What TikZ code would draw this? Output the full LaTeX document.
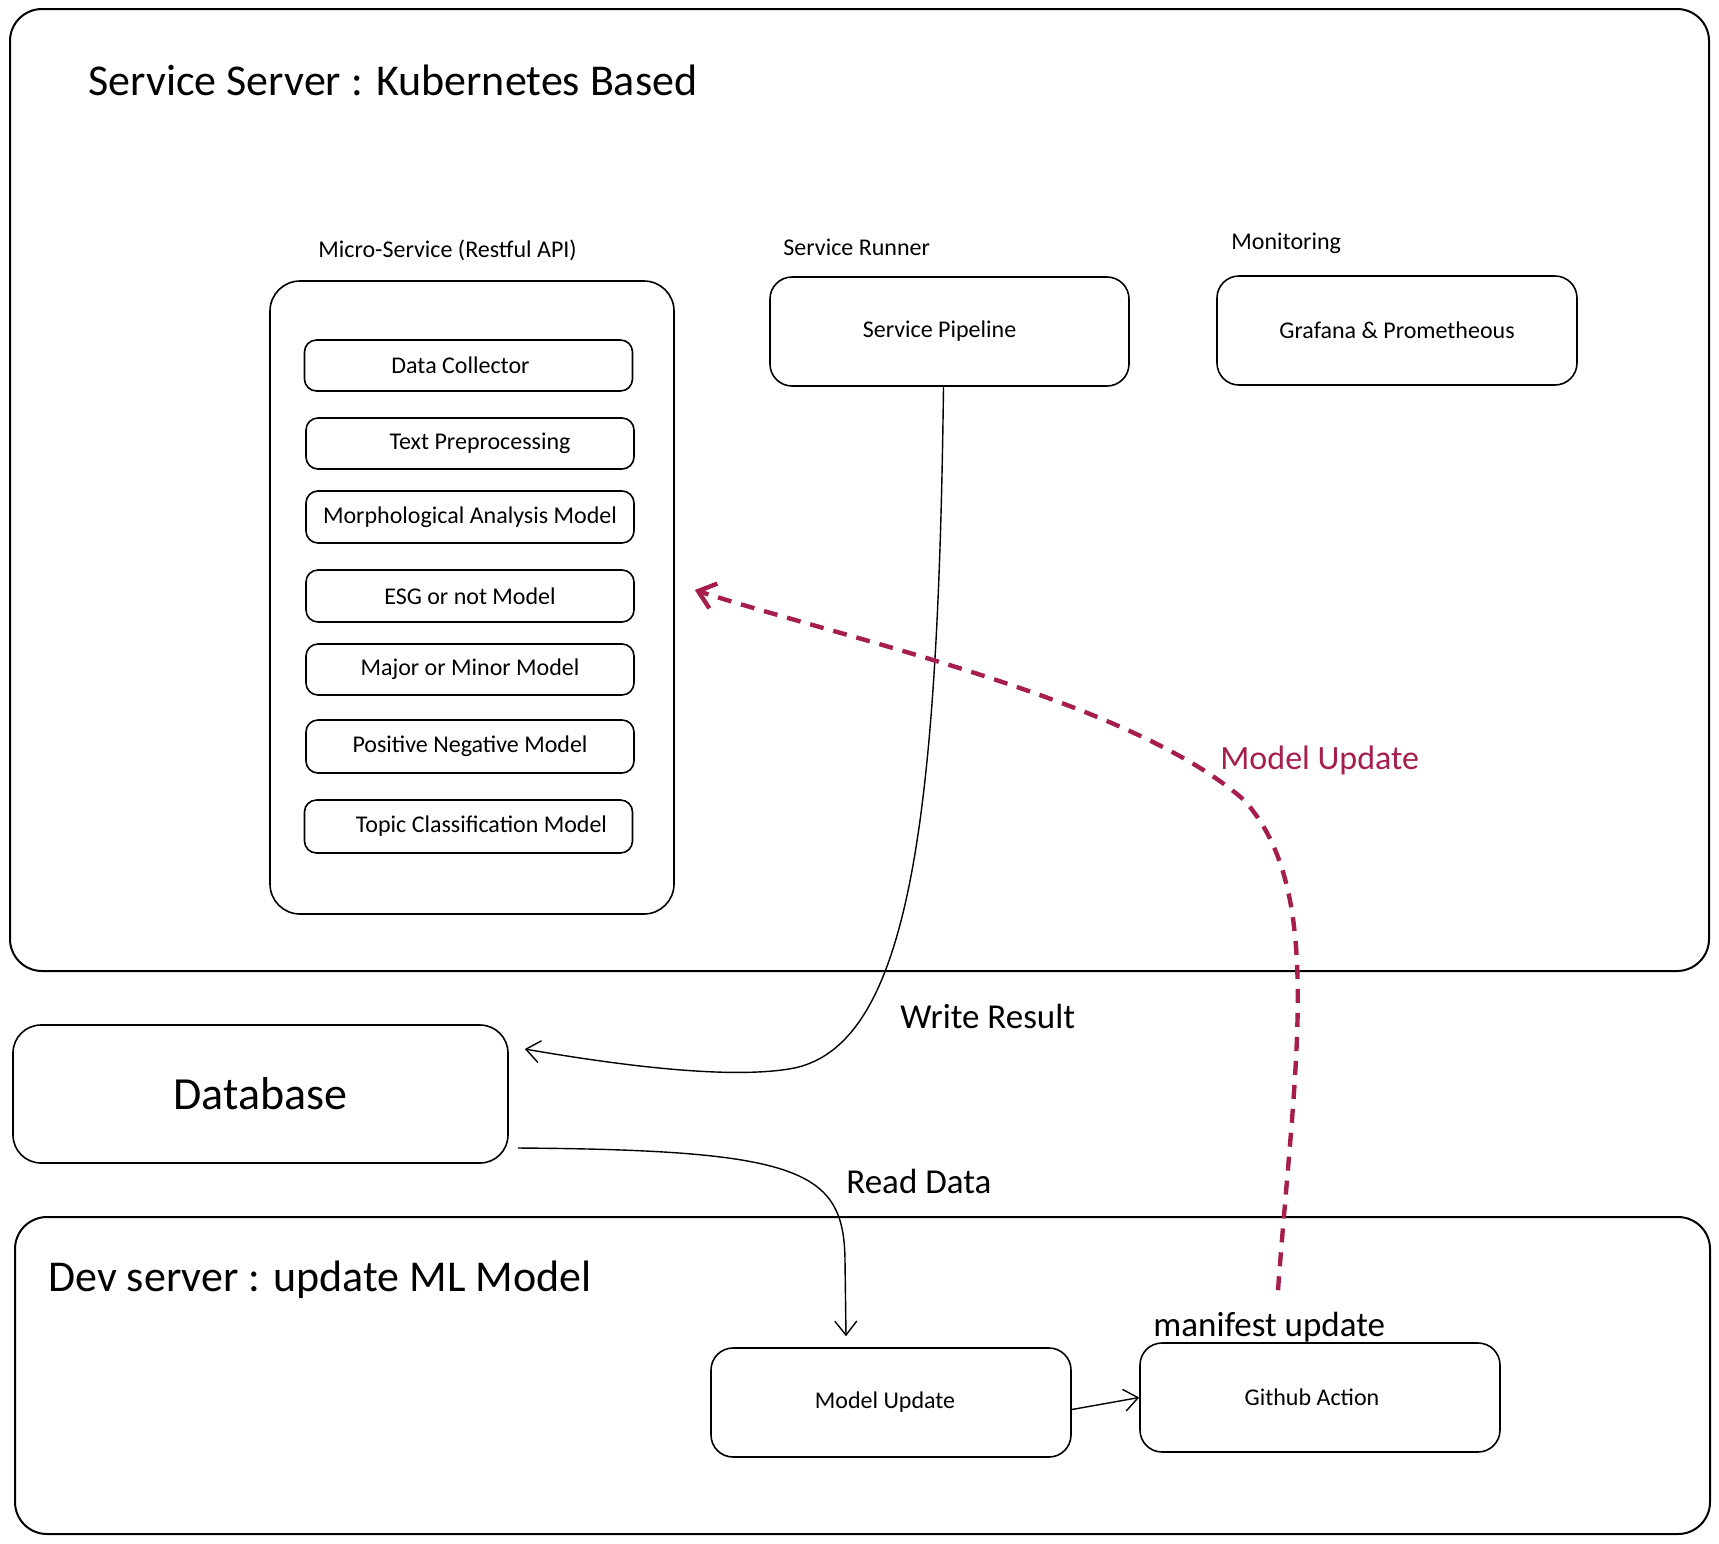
\documentclass[tikz,border=0pt]{standalone}
\usepackage{fontspec}
\setmainfont{Carlito}
\usetikzlibrary{arrows.meta,calc}
\definecolor{crim}{HTML}{A61E4D}
\begin{document}
\begin{tikzpicture}[x=0.5pt,y=-0.5pt,
  frame/.style={draw,line width=1pt,rounded corners=16pt,inner sep=0pt},
  lbl/.style={inner sep=0pt,font=\fontsize{12}{14}\selectfont},
  innerbox/.style={draw,line width=0.8pt,rounded corners=6pt,inner sep=0pt,
     minimum width=164pt,minimum height=25.5pt,font=\fontsize{12}{14}\selectfont},
  bigbox/.style={draw,line width=0.8pt,rounded corners=11pt,inner sep=0pt,
     minimum width=180pt,minimum height=54.5pt,font=\fontsize{12}{14}\selectfont},
  title/.style={anchor=west,inner sep=0pt,font=\fontsize{22}{26}\selectfont},
  small/.style={anchor=west,inner sep=0pt,font=\fontsize{12}{14}\selectfont},
  mid/.style={anchor=west,inner sep=0pt,font=\fontsize{17.5}{20}\selectfont},
  conn/.style={line width=0.7pt,-{Straight Barb[length=7pt,width=11pt,line width=0.7pt]}},
  redconn/.style={crim,line width=2.2pt,dash pattern=on 7pt off 5pt,
     -{Straight Barb[length=8pt,width=13pt,line width=2.2pt]}}]
\useasboundingbox (0,0) rectangle (1719,1543);

% Service server
\node[frame,minimum width=849.5pt,minimum height=481pt] (svc) at (859.5,490) {};
\node[title] (svct) at (88,80) {Service Server : Kubernetes Based};

% Micro-service container
\node[small] (mslab) at (318,250) {Micro-Service (Restful API)};
\node[frame,rounded corners=15pt,line width=0.8pt,minimum width=202pt,minimum height=316.5pt] (ms) at (472,597.5) {};
\node[innerbox,label={[lbl,xshift=-4pt]center:Data Collector}] (dc) at (468.5,365.5) {};
\node[innerbox,label={[lbl,xshift=5pt]center:Text Preprocessing}] (tp) at (470,443.5) {};
\node[innerbox,minimum height=26pt] (ma) at (470,517) {Morphological Analysis Model};
\node[innerbox,minimum height=26pt] (esg) at (470,596) {ESG or not Model};
\node[innerbox] (mm) at (470,669.5) {Major or Minor Model};
\node[innerbox,minimum height=26.5pt] (pn) at (470,746.5) {Positive Negative Model};
\node[innerbox,minimum height=26.5pt,label={[lbl,xshift=6.5pt]center:Topic Classification Model}] (tc) at (468.5,826.5) {};

% Service runner
\node[small] (srlab) at (783,247) {Service Runner};
\node[bigbox,minimum width=179.5pt,label={[lbl,xshift=-5pt]center:Service Pipeline}] (pipe) at (949.5,331.5) {};

% Monitoring
\node[small] (monlab) at (1231,243) {Monitoring};
\node[bigbox] (graf) at (1397,330.5) {Grafana \& Prometheous};

% Database
\node[frame,line width=0.8pt,rounded corners=14pt,minimum width=247.5pt,minimum height=69pt,
      font=\fontsize{23}{27}\selectfont] (db) at (260.5,1094) {Database};

% Dev server
\node[frame,minimum width=847.5pt,minimum height=158.5pt] (dev) at (862.5,1375.5) {};
\node[title] (devt) at (48,1280) {Dev server : update ML Model};
\node[bigbox,label={[lbl,xshift=-3pt]center:Model Update}] (mu) at (891,1402.5) {};
\node[bigbox,label={[lbl,xshift=-4pt]center:Github Action}] (ga) at (1320,1397.5) {};
\node[mid] (manif) at (1153,1327) {manifest update};

% Connectors
\draw[conn] ($(pipe.south)+(-6,0)$) .. controls (938,820) and (910,1050) .. (789,1069)
   .. controls (720,1080) and (600,1062) .. ($(db.east)+(16,-45)$);
\node[mid] (wr) at (900,1016) {Write Result};

\draw[conn] ($(db.east)+(9,54)$) .. controls (800,1150) and (844,1170) .. (845,1260)
   -- ($(mu.north)+(-45,-11)$);
\node[mid] (rd) at (846,1181) {Read Data};

\draw[conn] ($(mu.east)+(0,7)$) -- (ga.west);

\draw[redconn] ($(ga.north)+(-42,-52)$) .. controls (1295,1060) and (1325,890) .. (1244,800)
   .. controls (1130,700) and (850,640) .. ($(ms.east)+(20,-7.5)$);
\node[mid,text=crim,font=\fontsize{17}{20}\selectfont] (mulab) at (1220,760) {Model Update};
\end{tikzpicture}
\end{document}
